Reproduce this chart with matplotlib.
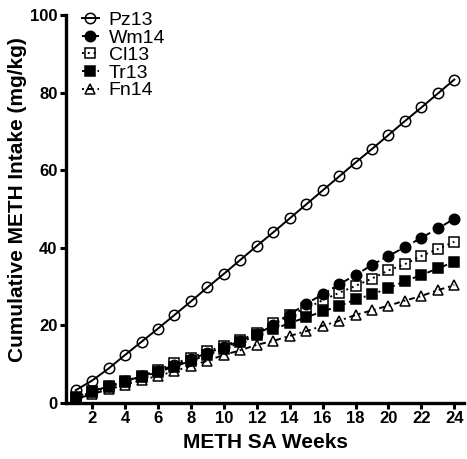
import matplotlib
matplotlib.use("Agg")
import matplotlib.pyplot as plt

# ── Data ──────────────────────────────────────────────────────────────────────
weeks = list(range(1, 25))

pz13 = [3.3, 5.8, 8.9, 12.4, 15.8, 19.2, 22.7, 26.2, 29.8, 33.3, 36.9, 40.5,
        44.0, 47.6, 51.2, 54.8, 58.4, 62.0, 65.5, 69.1, 72.7, 76.2, 79.8, 83.4]
wm14 = [1.5, 3.0, 4.3, 5.6, 6.9, 8.2, 9.8, 11.3, 12.9, 14.4, 16.0, 17.8,
        20.0, 22.8, 25.6, 28.0, 30.6, 33.0, 35.6, 37.9, 40.2, 42.6, 45.0, 47.5]
cl13 = [1.6, 3.1, 4.4, 5.7, 7.0, 8.6, 10.2, 11.7, 13.3, 14.8, 16.3, 18.0,
        20.6, 22.8, 24.4, 26.5, 28.4, 30.2, 32.1, 34.2, 35.8, 37.9, 39.7, 41.6]
tr13 = [1.4, 2.8, 4.1, 5.4, 6.7, 8.0, 9.4, 10.9, 12.4, 13.9, 15.6, 17.5,
        19.0, 20.6, 22.1, 23.6, 25.0, 26.7, 28.0, 29.6, 31.4, 33.0, 34.7, 36.4]
fn14 = [1.0, 2.3, 3.5, 4.7, 5.9, 7.0, 8.2, 9.6, 10.9, 12.4, 13.6, 15.0,
        16.0, 17.3, 18.5, 19.9, 21.2, 22.7, 23.9, 25.1, 26.4, 27.6, 29.1, 30.4]

x_ticks = list(range(2, 25, 2))
y_ticks = [0, 20, 40, 60, 80, 100]

# ── Style ─────────────────────────────────────────────────────────────────────
plt.rcParams["font.family"] = ["Liberation Sans", "DejaVu Sans"]

# name, values, marker, filled?, linestyle
SERIES = [
    ("Pz13", pz13, "o", False, "-"),
    ("Wm14", wm14, "o", True, (0, (4, 2))),
    ("Cl13", cl13, "s", False, (0, (1, 2))),
    ("Tr13", tr13, "s", True, (0, (3, 2, 1, 2))),
    ("Fn14", fn14, "^", False, (0, (1, 2, 3, 2))),
]

fig = plt.figure(figsize=(4.67, 4.59), dpi=100)
ax = fig.add_axes([0.141, 0.122, 0.853, 0.845])

for name, vals, mk, filled, ls in SERIES:
    ax.plot(weeks, vals, color="black", linestyle=ls, linewidth=1.4,
            marker=mk, markersize=7.5,
            markerfacecolor="black" if filled else "none",
            markeredgecolor="black", markeredgewidth=1.1, label=name)

ax.set_xlim(0.4, 24.6)
ax.set_ylim(0, 100)
ax.set_xticks(x_ticks)
ax.set_yticks(y_ticks)

for lab in ax.get_xticklabels() + ax.get_yticklabels():
    lab.set_fontweight("bold")
    lab.set_fontsize(12)

ax.tick_params(direction="out", width=2.2, length=4, pad=2)
ax.spines["top"].set_visible(False)
ax.spines["right"].set_visible(False)
ax.spines["left"].set_linewidth(2.4)
ax.spines["bottom"].set_linewidth(2.4)

ax.set_xlabel("METH SA Weeks", fontsize=15, fontweight="bold", labelpad=5)
ax.set_ylabel("Cumulative METH Intake (mg/kg)", fontsize=15, fontweight="bold")
ax.yaxis.set_label_coords(-0.097, 0.525)

ax.legend(loc="upper left", frameon=False, fontsize=14, handlelength=0.9,
          handletextpad=0.5, labelspacing=0.0, borderaxespad=0.0,
          bbox_to_anchor=(0.02, 1.03))

fig.savefig("out.png", dpi=100)
